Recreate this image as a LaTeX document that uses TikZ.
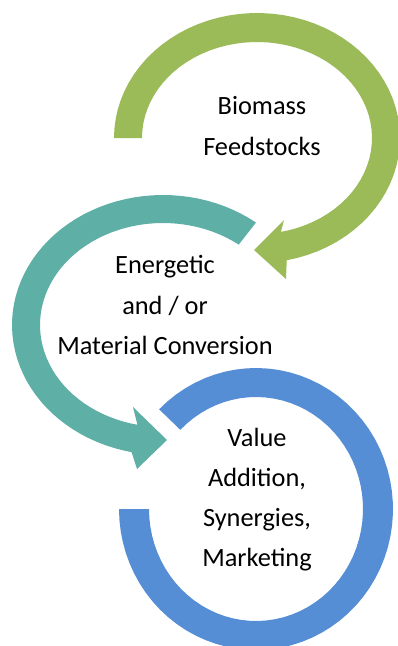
\documentclass[tikz,border=0pt]{standalone}
\usepackage{fontspec}
\setmainfont{Carlito}
\usepackage{tikz}
\usepackage{xcolor}
\definecolor{feedgreen}{HTML}{9BBB59}
\definecolor{convteal}{HTML}{5EAFA6}
\definecolor{valueblue}{HTML}{558ED5}

\begin{document}
\begin{tikzpicture}[x=0.02cm, y=-0.02cm,
    arrowband/.style={draw=none},
    stagetext/.style={align=center, font=\fontsize{15}{22.8}\selectfont, inner sep=0pt}]
    \useasboundingbox (0,0) rectangle (398,646);

    % green: feedstocks loop
    \fill[feedgreen,arrowband] plot[domain=180:-78,samples=60,variable=\t] ({257+143*cos(\t)},{138-125*sin(\t)})
        -- (286,279) -- (254,250) -- (284,220)
        -- plot[domain=-78:180,samples=60,variable=\t] ({257+115*cos(\t)},{138-96*sin(\t)}) -- cycle;

    % teal: conversion loop
    \fill[convteal,arrowband] plot[domain=52:258,samples=60,variable=\t] ({163+151*cos(\t)},{325-130*sin(\t)})
        -- (137,469) -- (167,440) -- (133,407)
        -- plot[domain=258:52,samples=60,variable=\t] ({163+123*cos(\t)},{325-102*sin(\t)}) -- cycle;

    % blue: value ring
    \fill[valueblue,arrowband] plot[domain=135:-180,samples=70,variable=\t] ({256+137*cos(\t)},{509-141*sin(\t)})
        -- plot[domain=-180:135,samples=70,variable=\t] ({256+107*cos(\t)},{509-112*sin(\t)}) -- cycle;

    \node[stagetext] (biomass) at (262,126) {Biomass\\Feedstocks};
    \node[stagetext] (conversion) at (165,305) {Energetic\\and / or\\Material Conversion};
    \node[stagetext] (value) at (257,500) {Value\\Addition,\\Synergies,\\Marketing};
\end{tikzpicture}
\end{document}
